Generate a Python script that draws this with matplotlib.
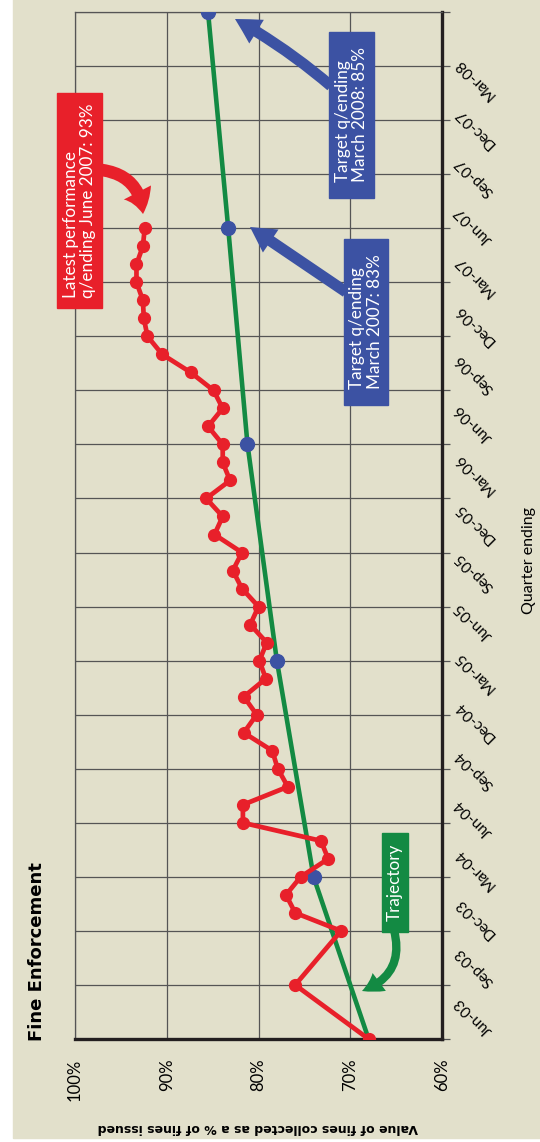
import numpy as np
import matplotlib.pyplot as plt
from matplotlib.patches import FancyArrowPatch, Rectangle

plt.rcParams['font.family'] = ['Lato', 'DejaVu Sans']

# months counted from Jun-03 (0)
quarter_labels = ['Jun-03', 'Sep-03', 'Dec-03', 'Mar-04', 'Jun-04', 'Sep-04', 'Dec-04',
                  'Mar-05', 'Jun-05', 'Sep-05', 'Dec-05', 'Mar-06', 'Jun-06', 'Sep-06',
                  'Dec-06', 'Mar-07', 'Jun-07', 'Sep-07', 'Dec-07', 'Mar-08']
label_pos = np.linspace(2.2, 54.3, len(quarter_labels))

actual_month = [0, 3, 6, 7, 8, 9, 10, 11, 12, 13, 14, 15, 16, 17, 18, 19, 20, 21, 22, 23, 24,
                25, 26, 27, 28, 29, 30, 31, 32, 33, 34, 35, 36, 37, 38, 39, 40, 41, 42, 43, 44, 45]
actual_pct = [68.0, 76.0, 71.0, 76.0, 77.0, 75.4, 72.4, 73.2, 81.7, 81.7, 76.8, 77.9, 78.5,
              81.6, 80.2, 81.6, 79.2, 79.9, 79.1, 80.9, 80.0, 81.8, 82.8, 81.8, 84.8, 83.9,
              85.7, 83.1, 83.9, 83.9, 85.5, 83.9, 84.9, 87.4, 90.5, 92.1, 92.5, 92.6, 93.3,
              93.3, 92.6, 92.4]

traj_month = [0, 9, 21, 33, 45, 57]
traj_pct = [68.0, 74.0, 78.0, 81.2, 83.3, 85.5]
target_month = [9, 21, 33, 45, 57]
target_pct = [74.0, 78.0, 81.2, 83.3, 85.5]

pct_ticks = [100, 90, 80, 70, 60]

beige = '#E2E0CB'
red = '#E8202A'
green = '#138A43'
blue = '#3C52A3'
gridc = '#555555'
dark = '#231F20'

W, H = 540, 1142


def fx(x, y):
    # pixel position -> figure fraction
    return (x / W, 1 - y / H)


fig = plt.figure(figsize=(W / 100, H / 100), dpi=100)
fig.patches.append(Rectangle((13 / W, 4 / H), 1, 1, transform=fig.transFigure,
                             color=beige, zorder=-10))

ax = fig.add_axes([75 / W, 103 / H, 367 / W, 1027 / H])
ax.set_facecolor(beige)

ax.plot(traj_pct, traj_month, color=green, lw=3.3, zorder=3, solid_capstyle='round')
ax.plot(target_pct, target_month, 'o', color=blue, ms=10, zorder=4)
ax.plot(actual_pct, actual_month, '-o', color=red, lw=3.4, ms=8.5, zorder=5,
        solid_joinstyle='round')

ax.set_xlim(100, 60)
ax.set_ylim(0, 57)

ax.set_xticks(pct_ticks)
ax.set_xticklabels([f'{p}%' for p in pct_ticks], rotation=90, fontsize=12)
ax.tick_params(axis='x', length=0, pad=14)

ax.yaxis.tick_right()
ax.set_yticks(np.arange(0, 58, 3))
ax.tick_params(axis='y', which='major', length=6, width=0.9, color=gridc, labelright=False)
ax.set_yticks(label_pos, quarter_labels, minor=True)
ax.tick_params(axis='y', which='minor', length=0, pad=11, labelsize=11)
for lbl in ax.get_yticklabels(minor=True):
    lbl.set_rotation(135)
    lbl.set_rotation_mode('anchor')
    lbl.set_ha('right')
    lbl.set_va('center')

ax.grid(True, which='major', color=gridc, lw=0.9)
ax.set_axisbelow(True)
for s in ['top', 'left']:
    ax.spines[s].set_color(gridc)
    ax.spines[s].set_linewidth(0.9)
for s in ['bottom', 'right']:
    ax.spines[s].set_color(dark)
    ax.spines[s].set_linewidth(2.4)

ax.set_xlabel('Value of fines collected as a % of fines issued', rotation=180,
              fontsize=9, fontweight='bold', family='DejaVu Sans')
ax.xaxis.set_label_coords(0.4986, -0.0798)
ax.yaxis.set_label_position('right')
ax.set_ylabel('Quarter ending', rotation=90, fontsize=11.5)
ax.yaxis.set_label_coords(1.218, 0.466)

fig.text(*fx(37, 952), 'Fine Enforcement', rotation=90, ha='center', va='center',
         fontsize=13, fontweight='bold', family='DejaVu Sans')

# callout boxes: (left, top, right, bottom) in pixels, colour, text
boxes = [
    ((57, 93, 102, 308), red, 'Latest performance\nq/ending June 2007: 93%'),
    ((329, 32, 374, 198), blue, 'Target q/ending\nMarch 2008: 85%'),
    ((344, 239, 388, 405), blue, 'Target q/ending\nMarch 2007: 83%'),
    ((382, 833, 408, 932), green, 'Trajectory'),
]
for (x0, y0, x1, y1), c, txt in boxes:
    fig.patches.append(Rectangle(fx(x0, y1), (x1 - x0) / W, (y1 - y0) / H,
                                 transform=fig.transFigure, color=c, zorder=8))
    fig.text(*fx((x0 + x1) / 2, (y0 + y1) / 2), txt, rotation=90, ha='center',
             va='center', color='white', fontsize=12.3, multialignment='left',
             linespacing=1.1, zorder=10)

arrows = [
    (fx(102, 170), fx(143, 214), red, 'arc3,rad=-0.4', 'simple,head_width=22,head_length=16,tail_width=9'),
    (fx(331, 86), fx(235, 19), blue, 'arc3,rad=0.05', 'simple,head_width=20,head_length=18,tail_width=8'),
    (fx(346, 292), fx(250, 227), blue, 'arc3,rad=0.0', 'simple,head_width=20,head_length=18,tail_width=8'),
    (fx(394, 930), fx(362, 991), green, 'arc3,rad=-0.45', 'simple,head_width=16,head_length=14,tail_width=6'),
]
for a, b, c, cs, st in arrows:
    fig.add_artist(FancyArrowPatch(a, b, transform=fig.transFigure, arrowstyle=st,
                                   connectionstyle=cs, color=c, lw=0,
                                   shrinkA=0, shrinkB=0, zorder=9))

fig.savefig('out.png', dpi=100)
